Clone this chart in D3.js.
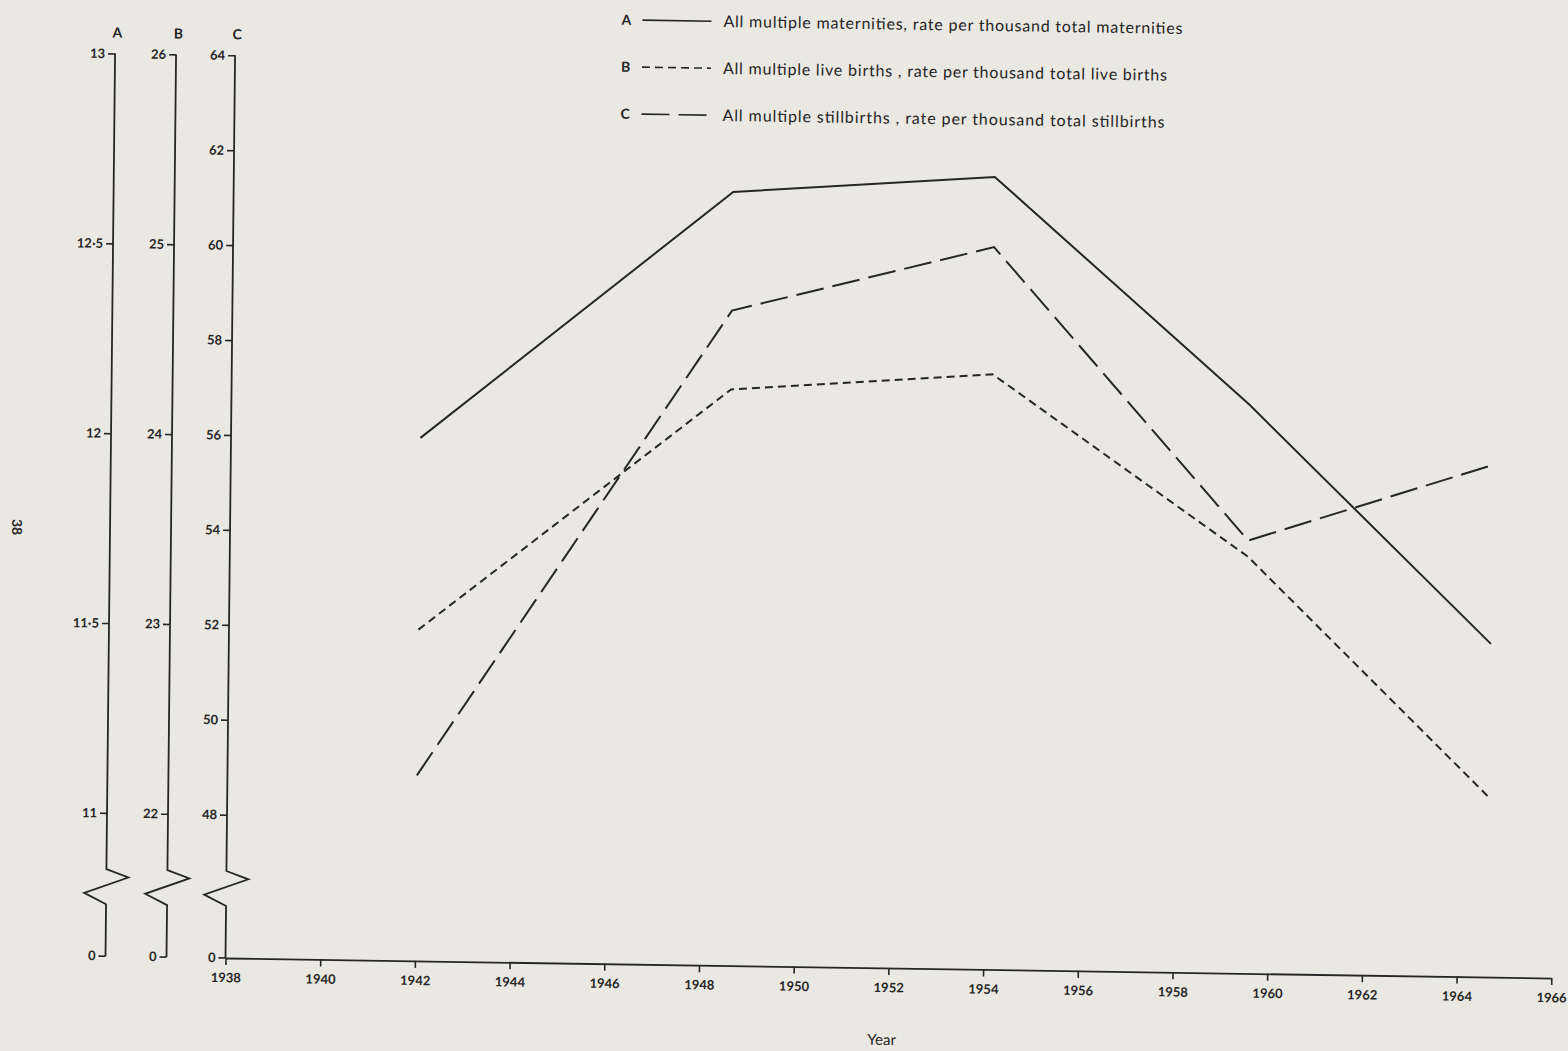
<!DOCTYPE html>
<html>
<head>
<meta charset="utf-8">
<script src="https://cdn.jsdelivr.net/npm/d3@7"></script>
<style>
  body { margin: 0; background: #eae8e3; }
  svg { display: block; }
</style>
</head>
<body>
<script>

// period mid-points (year) and the three rates
const periods      = [1942.0, 1948.55, 1954.07, 1959.5, 1964.65];
const maternitiesA = [12.00, 12.66, 12.71, 12.12, 11.50];
const liveBirthsB  = [22.99, 24.28, 24.38, 23.44, 22.19];
const stillbirthsC = [48.89, 58.78, 60.20, 54.10, 55.77];

// tick labels
const yearTicks = [1938, 1940, 1942, 1944, 1946, 1948, 1950, 1952, 1954, 1956, 1958, 1960, 1962, 1964, 1966];
const aTicks = [11, 11.5, 12, 12.5, 13];
const bTicks = [22, 23, 24, 25, 26];
const cTicks = [48, 50, 52, 54, 56, 58, 60, 62, 64];

const legendRows = [
  {key: "A", text: "All multiple maternities, rate per thousand total maternities", dash: null},
  {key: "B", text: "All multiple live births , rate per thousand total live births", dash: "8,5"},
  {key: "C", text: "All multiple stillbirths , rate per thousand total stillbirths", dash: "28,9"}
];

const width = 1568, height = 1051;
const ink = "#262626";
const font = "Lato, 'Open Sans', sans-serif";

const svg = d3.select("body").append("svg")
  .attr("width", width)
  .attr("height", height);

// the scanned page is slightly skewed: origin sits at the 1938 / zero corner
const page = svg.append("g")
  .attr("transform", "matrix(1, 0.0151, -0.0106, 1, 225.5, 958)");

// scales (local frame, y grows downward, zero at the x axis)
const xScale = d3.scaleLinear().domain([1938, 1966]).range([0, 1325.8]);
const yA = d3.scaleLinear().domain([11, 13]).range([-143.3, -902.7]);
const yB = d3.scaleLinear().domain([22, 26]).range([-143.3, -902.7]);
const yC = d3.scaleLinear().domain([48, 64]).range([-143.3, -902.7]);

// three vertical axes with a break
const vAxes = [
  {key: "A", u: -120, scale: yA, ticks: aTicks, top: 13},
  {key: "B", u: -59, scale: yB, ticks: bTicks, top: 26},
  {key: "C", u: 0, scale: yC, ticks: cTicks, top: 64}
];

const fmt = d => (d % 1 ? String(d).replace(".", "\u00b7") : String(d));

vAxes.forEach(ax => {
  const g = page.append("g").attr("transform", `translate(${ax.u},0)`);

  const axis = d3.axisLeft(ax.scale)
    .tickValues(ax.ticks)
    .tickSize(7)
    .tickPadding(3)
    .tickFormat(fmt);
  g.call(axis);
  g.select(".domain").remove();
  g.selectAll(".tick line").attr("stroke", ink).attr("stroke-width", 1.6);
  g.selectAll(".tick text")
    .attr("fill", ink)
    .attr("font-family", font)
    .attr("font-size", 13)
    .attr("font-weight", 700);

  // axis line with zigzag break down to zero
  const top = ax.scale(ax.top);
  const path = d3.path();
  path.moveTo(0, top);
  path.lineTo(0, -87);
  path.lineTo(22, -79);
  path.lineTo(-22, -63);
  path.lineTo(0, -52);
  path.lineTo(0, 0);
  g.append("path")
    .attr("d", path.toString())
    .attr("fill", "none")
    .attr("stroke", ink)
    .attr("stroke-width", 1.8);

  // zero tick
  g.append("line")
    .attr("x1", -7).attr("x2", 0).attr("y1", 0).attr("y2", 0)
    .attr("stroke", ink).attr("stroke-width", 1.6);
  g.append("text")
    .attr("x", -10).attr("y", 0).attr("dy", "0.32em")
    .attr("text-anchor", "end")
    .attr("fill", ink)
    .attr("font-family", font).attr("font-size", 13).attr("font-weight", 700)
    .text("0");

  // series letter on top
  g.append("text")
    .attr("x", 2).attr("y", top - 16)
    .attr("text-anchor", "middle")
    .attr("fill", ink)
    .attr("font-family", font).attr("font-size", 14).attr("font-weight", 700)
    .text(ax.key);
});

// x axis
const xAxisGroup = page.append("g")
  .call(d3.axisBottom(xScale)
    .tickValues(yearTicks)
    .tickSize(7)
    .tickSizeOuter(0)
    .tickPadding(8)
    .tickFormat(d3.format("d")));
xAxisGroup.select(".domain").attr("stroke", ink).attr("stroke-width", 1.8);
xAxisGroup.selectAll(".tick line").attr("stroke", ink).attr("stroke-width", 1.6);
xAxisGroup.selectAll(".tick text")
  .attr("fill", ink)
  .attr("font-family", font)
  .attr("font-size", 13)
  .attr("font-weight", 700);

page.append("text")
  .attr("x", xScale(1952) - 6).attr("y", 77)
  .attr("text-anchor", "middle")
  .attr("fill", ink)
  .attr("font-family", font).attr("font-size", 15)
  .text("Year");

// data lines
const series = [
  {values: maternitiesA, scale: yA, dash: null},
  {values: liveBirthsB, scale: yB, dash: "8,5"},
  {values: stillbirthsC, scale: yC, dash: "28,9"}
];

series.forEach(s => {
  const pts = periods.map((p, i) => ({year: p, value: s.values[i]}));
  const line = d3.line()
    .x(d => xScale(d.year))
    .y(d => s.scale(d.value));
  page.append("path")
    .datum(pts)
    .attr("d", line)
    .attr("fill", "none")
    .attr("stroke", ink)
    .attr("stroke-width", 2)
    .attr("stroke-dasharray", s.dash);
});

// legend
const legend = page.append("g").attr("transform", "translate(386,-944)");
legendRows.forEach((row, i) => {
  const r = legend.append("g").attr("transform", `translate(0,${i * 47})`);
  r.append("text")
    .attr("x", 0).attr("y", 0).attr("dy", "0.35em")
    .attr("fill", ink)
    .attr("font-family", font).attr("font-size", 14).attr("font-weight", 700)
    .text(row.key);
  r.append("line")
    .attr("x1", 21).attr("x2", 90).attr("y1", 0).attr("y2", 0)
    .attr("stroke", ink).attr("stroke-width", 1.6)
    .attr("stroke-dasharray", row.dash);
  r.append("text")
    .attr("x", 102).attr("y", 0).attr("dy", "0.35em")
    .attr("fill", ink)
    .attr("font-family", font).attr("font-size", 16)
    .attr("textLength", [459, 444, 442][i])
    .attr("lengthAdjust", "spacing")
    .text(row.text);
});

// page number, printed sideways
svg.append("text")
  .attr("transform", "translate(12,527) rotate(90)")
  .attr("text-anchor", "middle")
  .attr("fill", ink)
  .attr("font-family", font).attr("font-size", 14).attr("font-weight", 700)
  .text("38");

</script>
</body>
</html>
